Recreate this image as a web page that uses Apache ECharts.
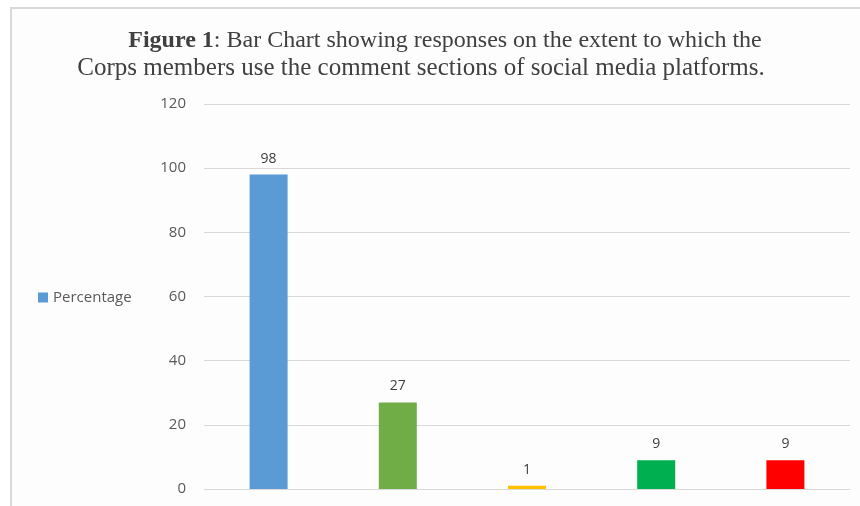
<!DOCTYPE html>
<html><head><meta charset="utf-8">
<script src="https://cdn.jsdelivr.net/npm/echarts@6/dist/echarts.min.js"></script>
<style>html,body{margin:0;padding:0;background:#fff}#c{width:860px;height:506px}</style>
</head><body><div id="c"></div>
<script>
const categories = ['A', 'B', 'C', 'D', 'E'];
const percentage = [98, 27, 1, 9, 9];
const barColors = ['#5b9bd5', '#70ad47', '#ffc000', '#00b050', '#ff0000'];
const yTicks = [0, 20, 40, 60, 80, 100, 120];
const titleLine1 = '{b|Figure 1}: Bar Chart showing responses on the extent to which the';
const titleLine2 = 'Corps members use the comment sections of social media platforms.';

const chart = echarts.init(document.getElementById('c'), null, {renderer: 'canvas'});
chart.setOption({
  animation: false,
  backgroundColor: '#ffffff',
  graphic: [
    {type: 'rect', shape: {x: 11, y: 8, width: 860, height: 520}, style: {fill: '#fdfdfd', stroke: '#d9d9d9', lineWidth: 2}, z: -10}
  ],
  title: [{
    text: titleLine1,
    left: 440, top: 24, textAlign: 'center',
    textStyle: {
      fontFamily: 'Liberation Serif', fontSize: 24, fontWeight: 'normal', color: '#404040',
      rich: {b: {fontFamily: 'Liberation Serif', fontSize: 24, fontWeight: 'bold', color: '#404040'}}
    }
  }, {
    text: titleLine2,
    left: 416, top: 51, textAlign: 'center',
    textStyle: {fontFamily: 'Liberation Serif', fontSize: 25, fontWeight: 'normal', color: '#404040'}
  }],
  legend: {
    orient: 'vertical', left: 33, top: 285,
    itemWidth: 10, itemHeight: 10, itemGap: 6,
    icon: 'rect',
    textStyle: {fontFamily: 'Open Sans', fontSize: 15, color: '#595959'},
    data: ['Percentage']
  },
  grid: {left: 204, right: 10, top: 104, bottom: 17, containLabel: false},
  xAxis: {
    type: 'category', data: categories,
    axisLine: {lineStyle: {color: '#d9d9d9', width: 1}},
    axisTick: {show: false},
    axisLabel: {show: false}
  },
  yAxis: {
    type: 'value', min: yTicks[0], max: yTicks[yTicks.length - 1], interval: 20,
    axisLine: {show: false}, axisTick: {show: false},
    axisLabel: {fontFamily: 'Open Sans', fontSize: 15, color: '#595959', margin: 18},
    splitLine: {lineStyle: {color: '#d9d9d9', width: 1}}
  },
  series: [{
    name: 'Percentage', type: 'bar', barWidth: 38,
    data: percentage.map((v, i) => ({value: v, itemStyle: {color: barColors[i]}})),
    itemStyle: {color: '#5b9bd5'},
    label: {show: true, position: 'top', distance: 9, fontFamily: 'Open Sans', fontSize: 14, color: '#404040'}
  }]
});
</script></body></html>
